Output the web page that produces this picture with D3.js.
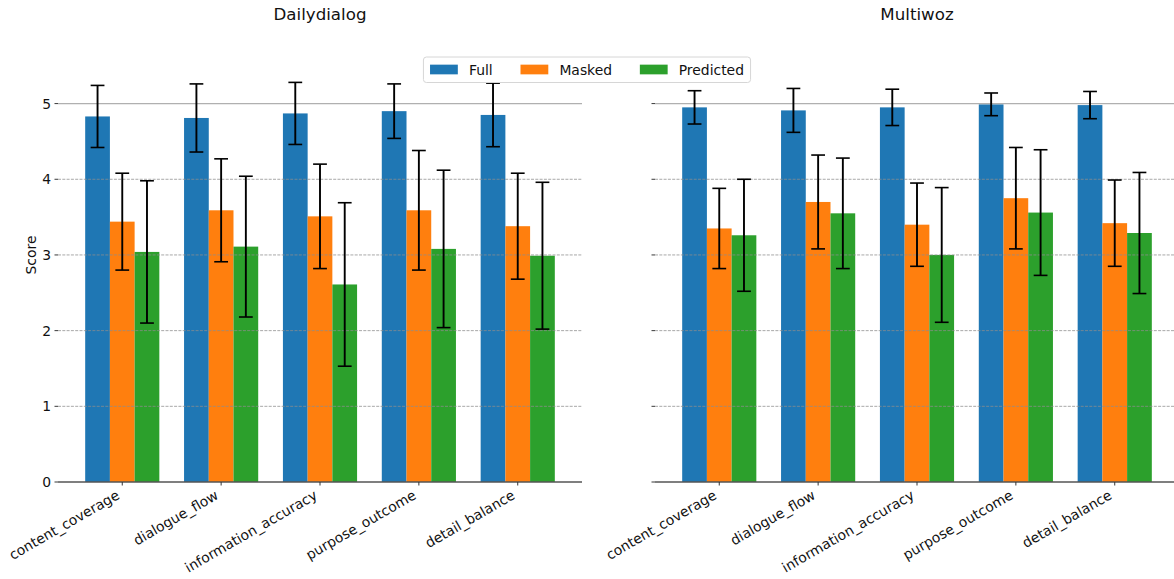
<!DOCTYPE html>
<html><head><meta charset="utf-8">
<script src="https://cdn.jsdelivr.net/npm/d3@7"></script>
<style>body{margin:0;background:#fff}svg{display:block}text{font-family:"DejaVu Sans",sans-serif}</style>
</head><body>
<svg id="c" width="1174" height="579"></svg>
<script>
const categories = ["content_coverage","dialogue_flow","information_accuracy","purpose_outcome","detail_balance"];
const seriesNames = ["Full","Masked","Predicted"];
const colors = ["#1f77b4","#ff7f0e","#2ca02c"];
const yTicks = [0,1,2,3,4,5];
const panelTitles = ["Dailydialog","Multiwoz"];

// Dailydialog
const ddFull = [4.83, 4.81, 4.87, 4.90, 4.85];
const ddMasked = [3.44, 3.59, 3.51, 3.59, 3.38];
const ddPredicted = [3.04, 3.11, 2.61, 3.08, 2.99];
const ddFullErr = [0.41, 0.45, 0.41, 0.36, 0.42];
const ddMaskedErr = [0.64, 0.68, 0.69, 0.79, 0.70];
const ddPredictedErr = [0.94, 0.93, 1.08, 1.04, 0.97];
// Multiwoz
const mwFull = [4.95, 4.91, 4.95, 4.99, 4.98];
const mwMasked = [3.35, 3.70, 3.40, 3.75, 3.42];
const mwPredicted = [3.26, 3.55, 3.00, 3.56, 3.29];
const mwFullErr = [0.22, 0.29, 0.24, 0.15, 0.18];
const mwMaskedErr = [0.53, 0.62, 0.55, 0.67, 0.57];
const mwPredictedErr = [0.74, 0.73, 0.89, 0.83, 0.80];

const panels = [
  {title: panelTitles[0], means:[ddFull,ddMasked,ddPredicted], errs:[ddFullErr,ddMaskedErr,ddPredictedErr], x0:58, x1:582, labels:true},
  {title: panelTitles[1], means:[mwFull,mwMasked,mwPredicted], errs:[mwFullErr,mwMaskedErr,mwPredictedErr], x0:655, x1:1179, labels:false}
];

const svg = d3.select("#c");
const yTop = 27.9, yBot = 482;
const y = d3.scaleLinear().domain([0,6]).range([yBot, yTop]);
const barW = 0.25;
const fs = 13.9;

panels.forEach(p => {
  const x = d3.scaleLinear().domain([-0.65, 4.65]).range([p.x0, p.x1]);
  const g = svg.append("g");
  // bars
  p.means.forEach((vals, si) => {
    g.selectAll(null).data(vals).enter().append("rect")
      .attr("x", (d,i) => x(i + (si-1)*barW - barW/2))
      .attr("width", x(barW) - x(0))
      .attr("y", d => y(d))
      .attr("height", d => y(0) - y(d))
      .attr("fill", colors[si]);
  });
  // gridlines
  yTicks.filter(t => t>0 && t<5).forEach(t => {
    g.append("line").attr("x1", p.x0).attr("x2", p.x1).attr("y1", y(t)).attr("y2", y(t))
      .attr("stroke", "#8c8c8c").attr("stroke-opacity", 0.85).attr("stroke-width", 0.9)
      .attr("stroke-dasharray", "3,1.3");
  });
  g.append("line").attr("x1", p.x0).attr("x2", p.x1).attr("y1", y(5)).attr("y2", y(5))
    .attr("stroke", "#b0b0b0").attr("stroke-width", 1.2);
  // error bars
  p.means.forEach((vals, si) => {
    vals.forEach((m, i) => {
      const e = p.errs[si][i];
      const cx = x(i + (si-1)*barW);
      const eg = g.append("g").attr("stroke", "#000").attr("stroke-width", 1.9);
      eg.append("line").attr("x1", cx).attr("x2", cx).attr("y1", y(m-e)).attr("y2", y(m+e));
      eg.append("line").attr("x1", cx-6.9).attr("x2", cx+6.9).attr("y1", y(m-e)).attr("y2", y(m-e)).attr("stroke-width",1.6);
      eg.append("line").attr("x1", cx-6.9).attr("x2", cx+6.9).attr("y1", y(m+e)).attr("y2", y(m+e)).attr("stroke-width",1.6);
    });
  });
  // y axis ticks
  yTicks.forEach(t => {
    g.append("line").attr("x1", p.x0-3.5).attr("x2", p.x0).attr("y1", y(t)).attr("y2", y(t))
      .attr("stroke", "#222").attr("stroke-width", 0.9);
    if (p.labels) {
      g.append("text").attr("x", p.x0-6.8).attr("y", y(t)).attr("dy", "0.36em")
        .attr("text-anchor", "end").attr("font-size", fs).attr("fill", "#111").text(t);
    }
  });
  // bottom spine
  g.append("line").attr("x1", p.x0).attr("x2", p.x1).attr("y1", yBot).attr("y2", yBot)
    .attr("stroke", "#555").attr("stroke-width", 1.6);
  // x ticks & labels
  categories.forEach((c, i) => {
    const tx = x(i);
    g.append("line").attr("x1", tx).attr("x2", tx).attr("y1", yBot).attr("y2", yBot+3.5)
      .attr("stroke", "#333").attr("stroke-width", 1);
    g.append("text").attr("transform", `translate(${tx-1.7},${498}) rotate(-30)`)
      .attr("text-anchor", "end").attr("font-size", fs).attr("fill", "#111").text(c);
  });
  // title
  g.append("text").attr("x", (p.x0+p.x1)/2).attr("y", 19.5).attr("text-anchor", "middle")
    .attr("font-size", 16.67).attr("fill", "#111").text(p.title);
});

// y label
svg.append("text").attr("transform", "translate(35.5,255) rotate(-90)").attr("text-anchor", "middle")
  .attr("font-size", fs).attr("fill", "#111").text("Score");

// legend
const lg = svg.append("g");
const box = lg.append("rect").attr("fill", "#fff").attr("fill-opacity", 0.8)
  .attr("stroke", "#d6d6d6").attr("stroke-width", 1).attr("rx", 3);
let cx = 0;
const items = [];
seriesNames.forEach((s, i) => {
  const it = lg.append("g");
  it.append("rect").attr("x", 0).attr("y", -9.7/2 - 0).attr("width", 27.8).attr("height", 9.7).attr("fill", colors[i]);
  const t = it.append("text").attr("x", 27.8 + 11.1).attr("y", 0).attr("dy", "0.36em")
    .attr("font-size", fs).attr("fill", "#111").text(s);
  const w = 27.8 + 11.1 + t.node().getComputedTextLength();
  items.push({it, w});
});
const colSp = 27.8, pad = 5.6;
const totalW = items.reduce((a,b)=>a+b.w,0) + colSp*(items.length-1);
const left = 587 - totalW/2;
const cy = 69.5;
let xx = left;
items.forEach(o => { o.it.attr("transform", `translate(${xx},${cy})`); xx += o.w + colSp; });
box.attr("x", left - pad - 1).attr("y", 57).attr("width", totalW + 2*pad + 2).attr("height", 25.5);
</script>
</body></html>
